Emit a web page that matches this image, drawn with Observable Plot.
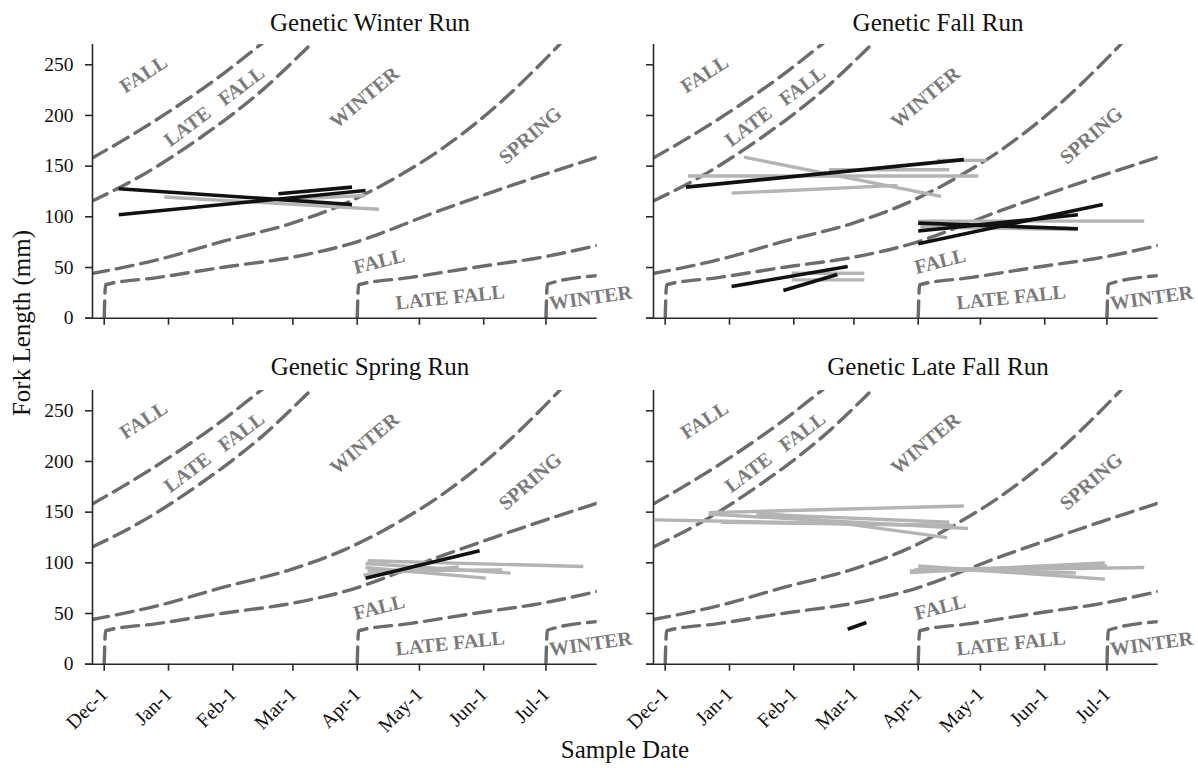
<!DOCTYPE html>
<html><head><meta charset="utf-8">
<script src="https://cdn.jsdelivr.net/npm/d3@7"></script>
<script src="https://cdn.jsdelivr.net/npm/@observablehq/plot@0.6"></script>
<style>
body{margin:0;background:#fff;font-family:"Liberation Serif","Times New Roman",serif;}
#wrap{position:relative;width:1198px;height:768px;overflow:hidden;background:#fff}
.panel{position:absolute}
.title{position:absolute;font-size:25px;line-height:25px;color:#111;white-space:nowrap;transform:translateX(-50%)}
.ylab{position:absolute;font-size:25px;line-height:25px;color:#111;white-space:nowrap;transform:translate(-50%,-50%) rotate(-90deg)}
.xlab{position:absolute;font-size:25px;line-height:25px;color:#111;white-space:nowrap;transform:translateX(-50%)}
</style></head><body><div id="wrap"></div>
<script>
// ---------- data ----------
const panelTitles = ["Genetic Winter Run", "Genetic Fall Run", "Genetic Spring Run", "Genetic Late Fall Run"];
const yAxisTitle = "Fork Length (mm)";
const xAxisTitle = "Sample Date";
const yTicks = [0, 50, 100, 150, 200, 250];
const monthTicks = ["12-01", "01-01", "02-01", "03-01", "04-01", "05-01", "06-01", "07-01"];
const monthTickLabels = ["Dec-1", "Jan-1", "Feb-1", "Mar-1", "Apr-1", "May-1", "Jun-1", "Jul-1"];
const xDomain = ["11-25T08:40", "07-25T17"];
const yDomain = [0, 270];

// size-at-date criteria boundaries [date, fork length mm]
const curveFallLateFall = [["11-25",157.8],["12-10",175.4],["01-03T10",206.7],["01-27T12",241.3],["02-15",270.9],["02-20",279]];
const curveLateFallWinter = [["11-25",115.3],["12-18T10",140],["01-16T07",178],["02-15T19",226],["03-10",271],["03-14",279]];
const curveWinterSpring = [["11-25",44],["12-26T10",57.5],["01-27T12",76],["03-01",94],["03-26",113],["04-19",138],["05-11",166],["06-08",211],["06-29",252],["07-08",271],["07-12",280]];
const curveSpringFall = [["12-01",0],["12-01T16",33],["12-26T10",40],["01-27T12",50.3],["03-01",60.2],["03-26",71.8],["05-11",106.3],["06-12",129.3],["07-25T17",158.9]];
const curveFallLateFall2 = [["04-01",0],["04-01T16",33],["04-26",40],["05-28",50.3],["06-30",60.5],["07-25T17",71.8]];
const curveLateFallWinter2 = [["07-01",0],["07-01T16",33.5],["07-25T17",42]];

// region labels [text, date, mm]
const regionLabels = [
  ["FALL", "12-20", 240.6],
  ["LATE\u00a0\u00a0\u00a0FALL", "01-23", 209],
  ["WINTER", "04-04T12", 217.7],
  ["SPRING", "06-23T10", 180.3],
  ["FALL", "04-11T14", 56],
  ["LATE FALL", "05-15T19", 20.4],
  ["WINTER", "07-22T14", 20]
];
const regionLabelAngles = [-33, -37, -40, -41, -14, -6, -8];

// sampled fish: [first date, first FL, last date, last FL, group]
const winterRun = [
  ["12-08",127.7,"03-29T12",112.2,"dark"],
  ["12-08",102,"04-05",126,"dark"],
  ["02-23",122.8,"03-29T12",129.3,"dark"],
  ["12-30",119.5,"04-11T12",107.5,"light"],
  ["02-23",117,"04-05",121,"light"]
];
const fallRun = [
  ["12-11",129.3,"04-23",156.4,"dark"],
  ["12-12",140.2,"04-30",140.2,"light"],
  ["01-08",158.9,"04-12",120.1,"light"],
  ["01-02",123.4,"03-22",131,"light"],
  ["02-18",146.5,"04-16",146.5,"light"],
  ["04-10",155.7,"05-04",155.7,"light"],
  ["04-01",73.4,"06-29",112.2,"dark"],
  ["04-01",93.8,"06-17",88.2,"dark"],
  ["04-01",86,"06-17",102,"dark"],
  ["04-01",95.8,"07-19",95.8,"light"],
  ["04-02",90,"06-17",87.5,"light"],
  ["01-02",31.3,"02-27",51,"dark"],
  ["01-27",27.3,"02-22",43.1,"dark"],
  ["01-31",44.4,"03-06",44.4,"light"],
  ["01-31",37.8,"03-06",37.8,"light"]
];
const springRun = [
  ["04-05",84.9,"05-30",111.9,"dark"],
  ["04-06",102,"07-19",96.3,"light"],
  ["04-05",99.3,"06-14",89.8,"light"],
  ["04-05",95.4,"06-02",84.9,"light"],
  ["04-04",88,"05-20",96,"light"],
  ["04-06",92,"06-10",93,"light"]
];
const lateFallRun = [
  ["02-27",34.5,"03-07",41.1,"dark"],
  ["11-26",142.4,"04-18",136.5,"light"],
  ["12-22",149.5,"04-23",156.1,"light"],
  ["12-22",148,"04-25",133.8,"light"],
  ["01-14",150.5,"04-15",124.8,"light"],
  ["01-14",148,"04-16",140,"light"],
  ["12-28",140,"04-16",137,"light"],
  ["03-28",92.1,"07-19",95.4,"light"],
  ["04-01",97,"06-30",83.9,"light"],
  ["03-28",90.4,"06-30",100,"light"],
  ["04-01",94,"06-16",90,"light"],
  ["03-30",93,"07-01",97,"light"]
];
const panelData = [winterRun, fallRun, springRun, lateFallRun];

// ---------- helpers ----------
const pd = s => {
  const m = +s.slice(0, 2);
  const y = m >= 11 ? 1999 : 2000;
  if (!s.includes("T")) return new Date(`${y}-${s}T00:00:00Z`);
  const [md, t] = s.split("T");
  const hm = t.includes(":") ? t : t + ":00";
  return new Date(`${y}-${md}T${hm}:00Z`);
};
const tickDates = monthTicks.map(pd);
const tickLabelMap = new Map(tickDates.map((d, i) => [+d, monthTickLabels[i]]));
const curves = [curveFallLateFall, curveLateFallWinter, curveWinterSpring, curveSpringFall, curveFallLateFall2, curveLateFallWinter2];
const labelRows = regionLabels.map((r, i) => ({text: r[0], x: pd(r[1]), y: r[2], a: regionLabelAngles[i]}));

// ---------- layout ----------
const frameW = 504.7, frameH = 273.7;
const frameLeft = [92.3, 653.3, 92.3, 653.3];
const frameTop = [44, 44, 389.6, 389.6];
const titleCenter = [370, 938, 370, 938];
const mL = 60, mR = 10, mT = 10, mB = 75;

const wrap = document.getElementById("wrap");
const axisColor = "#2a2a2a";

panelTitles.forEach((title, i) => {
  const isBottom = i >= 2, isLeft = i % 2 === 0;
  const segs = panelData[i].map(r => ({x1: pd(r[0]), y1: r[1], x2: pd(r[2]), y2: r[3], g: r[4]}));
  const marks = [];
  curves.forEach(c => {
    marks.push(Plot.line(c, {x: d => pd(d[0]), y: d => d[1], stroke: "#6c6c6c", strokeWidth: 3.4, strokeDasharray: "17,8", curve: "monotone-x", clip: true}));
  });
  marks.push(Plot.text(labelRows, {x: "x", y: "y", text: "text", rotate: "a", fill: "#7a7a7a", fontSize: 20, fontWeight: "bold", fontFamily: "Liberation Serif"}));
  marks.push(Plot.link(segs.filter(d => d.g === "light"), {x1: "x1", y1: "y1", x2: "x2", y2: "y2", stroke: "#b4b4b4", strokeWidth: 3.4}));
  marks.push(Plot.link(segs.filter(d => d.g === "dark"), {x1: "x1", y1: "y1", x2: "x2", y2: "y2", stroke: "#111111", strokeWidth: 3.6}));
  marks.push(Plot.ruleY([0], {stroke: axisColor, strokeWidth: 1.6, insetLeft: -7}));
  marks.push(Plot.ruleX([pd(xDomain[0])], {stroke: axisColor, strokeWidth: 1.6}));
  marks.push(Plot.axisY({ticks: yTicks, tickSize: 7, tickPadding: 12, tickFormat: d => isLeft ? String(d) : "", fontSize: 19.5, stroke: axisColor, strokeWidth: 1.6, fill: "#111", label: null}));
  marks.push(Plot.axisX({ticks: tickDates, tickSize: 7, tickPadding: 20, tickRotate: -45, tickFormat: d => isBottom ? tickLabelMap.get(+d) : "", fontSize: 20, stroke: axisColor, strokeWidth: 1.6, fill: "#111", label: null}));

  const svg = Plot.plot({
    width: frameW + mL + mR,
    height: frameH + mT + mB,
    marginLeft: mL, marginRight: mR, marginTop: mT, marginBottom: mB,
    style: {background: "transparent", overflow: "visible", fontFamily: "Liberation Serif", fontSize: "19px"},
    x: {type: "utc", domain: xDomain.map(pd), axis: null},
    y: {domain: yDomain, axis: null},
    marks
  });
  const holder = document.createElement("div");
  holder.className = "panel";
  holder.style.left = (frameLeft[i] - mL) + "px";
  holder.style.top = (frameTop[i] - mT) + "px";
  holder.appendChild(svg);
  wrap.appendChild(holder);

  const t = document.createElement("div");
  t.className = "title";
  t.textContent = title;
  t.style.left = titleCenter[i] + "px";
  t.style.top = (isBottom ? 354 : 10) + "px";
  wrap.appendChild(t);
});

const yl = document.createElement("div");
yl.className = "ylab"; yl.textContent = yAxisTitle;
yl.style.left = "21px"; yl.style.top = "323px";
wrap.appendChild(yl);
const xl = document.createElement("div");
xl.className = "xlab"; xl.textContent = xAxisTitle;
xl.style.left = "625px"; xl.style.top = "737px";
wrap.appendChild(xl);
</script></body></html>
